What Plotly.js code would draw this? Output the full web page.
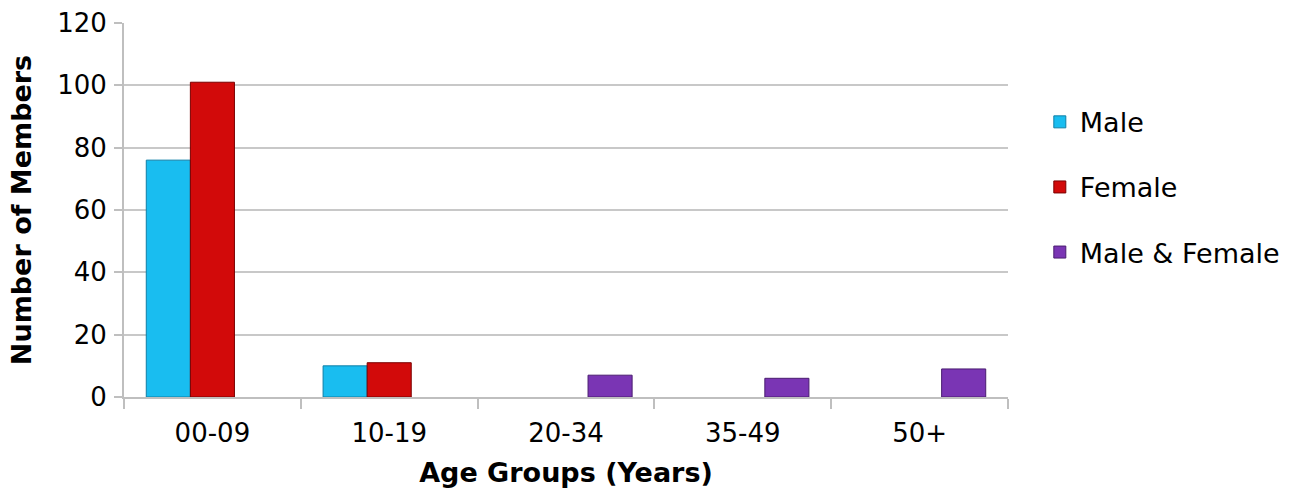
<!DOCTYPE html>
<html>
<head>
<meta charset="utf-8">
<script src="https://cdn.plot.ly/plotly-3.0.1.min.js"></script>
<style>html,body{margin:0;padding:0;background:#fff;}#chart{width:1311px;height:496px;}</style>
</head>
<body>
<div id="chart"></div>
<script>
const categories = ["00-09", "10-19", "20-34", "35-49", "50+"];
const maleValues = [76, 10, null, null, null];
const femaleValues = [101, 11, null, null, null];
const bothValues = [null, null, 7, 6, 9];
const seriesNames = ["Male", "Female", "Male & Female"];
const yTicks = [0, 20, 40, 60, 80, 100, 120];

const FONT = "DejaVu Sans, sans-serif";
const colors = ["#19bdf0", "#d20a0a", "#7a35b4"];
const lineColors = ["#0f7fa6", "#7a0000", "#4a1d70"];
const vals = [maleValues, femaleValues, bothValues];

const traces = vals.map((v, i) => ({
  type: "bar",
  name: seriesNames[i],
  x: categories,
  y: v,
  legendgroup: "g" + i,
  marker: {color: colors[i], line: {color: lineColors[i], width: 1}},
  hoverinfo: "x+y+name"
}));

const layout = {
  width: 1311, height: 496,
  margin: {l: 124, r: 303, t: 23, b: 99},
  paper_bgcolor: "#ffffff",
  plot_bgcolor: "#ffffff",
  barmode: "group",
  bargap: 0.252,
  bargroupgap: 0,
  font: {family: FONT, color: "#000"},
  xaxis: {
    type: "category",
    tickson: "boundaries",
    ticks: "outside", ticklen: 10, tickcolor: "#bfbfbf", tickwidth: 2,
    showline: true, linecolor: "#bfbfbf", linewidth: 2,
    showgrid: false,
    ticklabelstandoff: 12,
    tickfont: {family: FONT, size: 26, color: "#000"},
    title: {text: "<b>Age Groups (Years)</b>", font: {family: FONT, size: 27, color: "#000"}, standoff: 16},
    range: [-0.5, 4.5]
  },
  yaxis: {
    range: [0, 120],
    tickvals: yTicks,
    ticks: "outside", ticklen: 8, tickcolor: "#bfbfbf", tickwidth: 2,
    showline: true, linecolor: "#bfbfbf", linewidth: 2,
    gridcolor: "#c8c8c8", gridwidth: 2,
    zeroline: false,
    ticklabelstandoff: 2,
    tickfont: {family: FONT, size: 26, color: "#000"},
    title: {text: "<b>Number of Members</b>", font: {family: FONT, size: 27, color: "#000"}, standoff: 18}
  },
  legend: {
    x: 1.036, y: 0.80, xanchor: "left", yanchor: "top",
    font: {family: FONT, size: 27, color: "#000"},
    traceorder: "grouped",
    tracegroupgap: 27,
    itemwidth: 30
  },
  showlegend: true
};

Plotly.newPlot("chart", traces, layout, {displayModeBar: false, staticPlot: true});
</script>
</body>
</html>
